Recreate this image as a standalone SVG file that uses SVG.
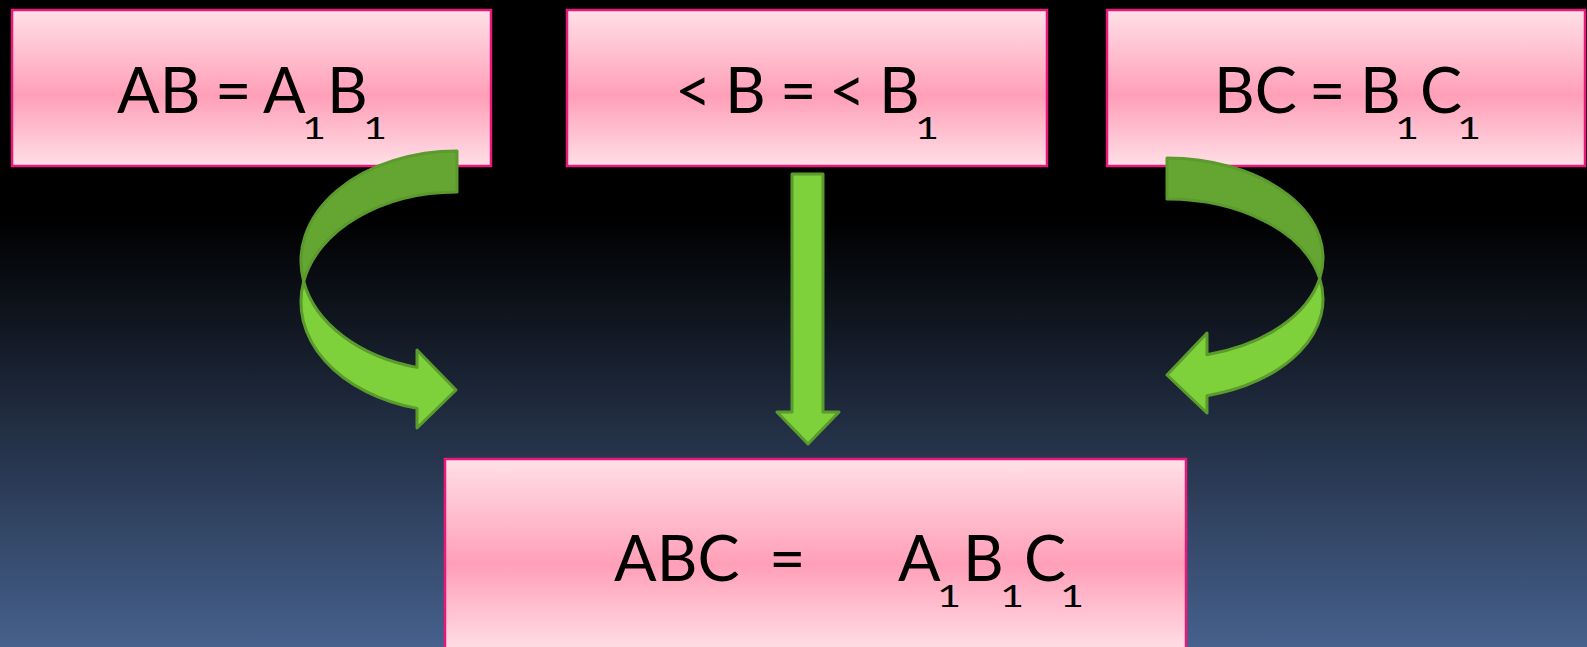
<svg xmlns="http://www.w3.org/2000/svg" width="1587" height="647" viewBox="0 0 1587 647">
<defs>
<linearGradient id="bg" x1="0" y1="0" x2="0" y2="647" gradientUnits="userSpaceOnUse">
<stop offset="0" stop-color="#000000"/>
<stop offset="0.34" stop-color="#000000"/>
<stop offset="0.6" stop-color="#1b2536"/>
<stop offset="1" stop-color="#46618d"/>
</linearGradient>
<linearGradient id="pink" x1="0" y1="0" x2="0" y2="1">
<stop offset="0" stop-color="#ffe0e8"/>
<stop offset="0.55" stop-color="#ff9fb8"/>
<stop offset="1" stop-color="#ffdfe7"/>
</linearGradient>
<style>
.box{fill:url(#pink);stroke:#e8197b;stroke-width:2.5}
.t{font-family:Lato,"Liberation Sans",sans-serif;font-size:63px;fill:#000}
.s{font-family:Lato,"Liberation Sans",sans-serif;font-size:30px;fill:#000}
.back{fill:#64a631;stroke:#5b9a2c;stroke-width:3;stroke-linejoin:round}
.front{fill:#7ed13b;stroke:#5b9a2c;stroke-width:3;stroke-linejoin:round}
</style>
</defs>
<rect x="0" y="0" width="1587" height="647" fill="url(#bg)"/>

<g id="node-ab">
<rect class="box" x="12" y="10" width="479" height="156"/>
<text class="t" x="117" y="113">AB</text>
<text class="t" x="215" y="113">=</text>
<text class="t" x="263" y="113">A</text>
<text class="s" x="302" y="139" textLength="24" lengthAdjust="spacingAndGlyphs">1</text>
<text class="t" x="327" y="113">B</text>
<text class="s" x="363" y="139" textLength="24" lengthAdjust="spacingAndGlyphs">1</text>
</g>

<g id="node-angle">
<rect class="box" x="567" y="10" width="480" height="156"/>
<text class="t" x="675" y="113">&lt;</text>
<text class="t" x="725" y="113">B</text>
<text class="t" x="780" y="113">=</text>
<text class="t" x="829" y="113">&lt;</text>
<text class="t" x="879" y="113">B</text>
<text class="s" x="915" y="139" textLength="24" lengthAdjust="spacingAndGlyphs">1</text>
</g>

<g id="node-bc">
<rect class="box" x="1107" y="10" width="478" height="156"/>
<text class="t" x="1214" y="113">BC</text>
<text class="t" x="1309" y="113">=</text>
<text class="t" x="1360" y="113">B</text>
<text class="s" x="1395" y="139" textLength="24" lengthAdjust="spacingAndGlyphs">1</text>
<text class="t" x="1420" y="113">C</text>
<text class="s" x="1457" y="139" textLength="24" lengthAdjust="spacingAndGlyphs">1</text>
</g>

<g id="node-abc">
<rect class="box" x="445" y="459" width="741" height="192"/>
<text class="t" x="614" y="581">ABC</text>
<text class="t" x="769" y="581">=</text>
<text class="t" x="898" y="581">A</text>
<text class="s" x="937" y="607" textLength="24" lengthAdjust="spacingAndGlyphs">1</text>
<text class="t" x="963" y="581">B</text>
<text class="s" x="1000" y="607" textLength="24" lengthAdjust="spacingAndGlyphs">1</text>
<text class="t" x="1024" y="581">C</text>
<text class="s" x="1060" y="607" textLength="24" lengthAdjust="spacingAndGlyphs">1</text>
</g>

<g id="connectors">
<g id="arrow-left">
<path class="back" d="M457,151 A156,110 0 0 0 303.7,281.5 A156,110 0 0 1 457,192 Z"/>
<path class="front" d="M303.7,281.5 A156,110 0 0 0 417,408.4 L417,428 L456,390 L417,350 L417,367.4 A156,110 0 0 1 303.7,281.5 Z"/>
</g>
<g id="arrow-down">
<path class="front" d="M792,174 L823,174 L823,412 L839,412 L808,444 L777,412 L792,412 Z"/>
</g>
<g id="arrow-right">
<path class="back" d="M1167,158 A156,100 0 0 1 1319.7,278.5 A156,100 0 0 0 1167,199 Z"/>
<path class="front" d="M1319.7,278.5 A156,100 0 0 1 1207,395.7 L1207,413 L1167,375 L1207,333 L1207,354.7 A156,100 0 0 0 1319.7,278.5 Z"/>
</g>
</g>
</svg>
